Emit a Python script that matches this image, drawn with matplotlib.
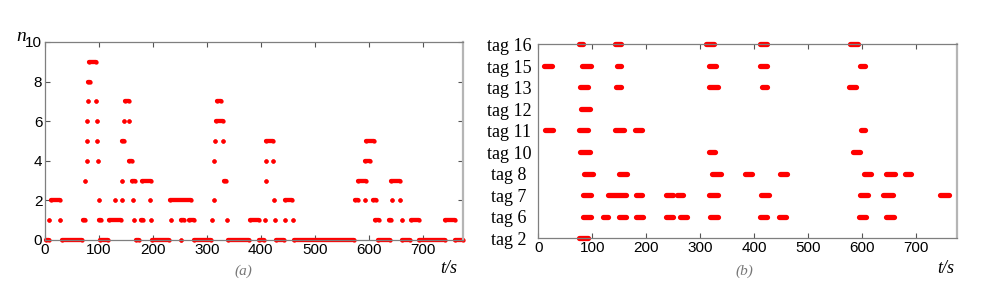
import matplotlib
matplotlib.use("Agg")
import matplotlib.pyplot as plt
import matplotlib.transforms as mtransforms

# (a) number of tags n(t): runs of samples (start s, end s) per level
n0 = [(1, 7), (31, 69), (102, 116), (169, 175), (199, 230), (253, 253), (276, 307),
      (340, 378), (396, 406), (428, 443), (461, 573), (617, 639), (662, 677),
      (694, 741), (761, 775)]
n1 = [(8, 8), (28, 28), (70, 74), (100, 103), (119, 141), (165, 165), (178, 182),
      (196, 196), (233, 233), (252, 257), (267, 276), (309, 309), (337, 337),
      (380, 396), (407, 407), (427, 427), (445, 445), (460, 460), (612, 619),
      (637, 642), (661, 661), (678, 693), (742, 761)]
n2 = [(11, 27), (100, 100), (129, 129), (142, 142), (164, 164), (195, 195),
      (232, 270), (314, 314), (425, 425), (445, 458), (574, 581), (593, 593),
      (609, 614), (643, 643), (659, 659)]
n3 = [(75, 75), (142, 142), (161, 166), (180, 197), (332, 335), (409, 409),
      (581, 595), (642, 658)]
n4 = [(77, 77), (98, 98), (156, 162), (314, 314), (409, 409), (423, 423), (593, 602)]
n5 = [(77, 77), (97, 97), (142, 146), (316, 316), (330, 330), (409, 422), (596, 610)]
n6 = [(78, 78), (96, 96), (147, 147), (156, 156), (317, 330)]
n7 = [(79, 79), (95, 95), (148, 155), (319, 327)]
n8 = [(80, 83)]
n9 = [(82, 94)]
levels = [n0, n1, n2, n3, n4, n5, n6, n7, n8, n9]

# (b) presence intervals of each tag
tags = ['tag 2', 'tag 6', 'tag 7', 'tag 8', 'tag 10', 'tag 11', 'tag 12',
        'tag 13', 'tag 15', 'tag 16']
tag2 = [(76, 92)]
tag6 = [(82, 97), (120, 129), (149, 162), (181, 194), (236, 250), (262, 275),
        (319, 333), (411, 424), (446, 458), (595, 607), (644, 658)]
tag7 = [(83, 98), (129, 162), (181, 192), (237, 249), (257, 268), (317, 333),
        (412, 428), (596, 610), (639, 657), (744, 760)]
tag8 = [(84, 101), (149, 165), (322, 338), (383, 396), (447, 461), (603, 617),
        (645, 660), (679, 691)]
tag10 = [(78, 96), (316, 328), (583, 596)]
tag11 = [(12, 27), (76, 93), (143, 159), (179, 193), (598, 606)]
tag12 = [(80, 96)]
tag13 = [(77, 93), (144, 154), (317, 332), (414, 423), (575, 589)]
tag15 = [(10, 25), (81, 97), (145, 154), (317, 330), (411, 424), (596, 606)]
tag16 = [(75, 82), (143, 154), (311, 325), (411, 424), (577, 592)]
tag_runs = [tag2, tag6, tag7, tag8, tag10, tag11, tag12, tag13, tag15, tag16]

sans = 'Liberation Sans'
serif = 'Liberation Serif'
red = '#ff0000'

fig = plt.figure(figsize=(9.81, 2.93), dpi=100)
ax1 = fig.add_axes([0.0459, 0.181, 0.4261, 0.6758])
ax2 = fig.add_axes([0.5487, 0.187, 0.4265, 0.662])

for v, runs in enumerate(levels):
    for s, e in runs:
        ax1.plot([s, e], [v, v], '-o', color=red, lw=3.1, ms=3.1, mew=0,
                 solid_capstyle='round', clip_on=False)

for i, runs in enumerate(tag_runs):
    for s, e in runs:
        ax2.plot([s, e], [i, i], '-', color=red, lw=3.8,
                 solid_capstyle='round', clip_on=False)

for ax in (ax1, ax2):
    ax.set_xlim(0, 775)
    ax.set_xticks(range(0, 701, 100))
    ax.tick_params(direction='in', top=True, right=True, length=3.5,
                   width=0.8, color='#555555', labelsize=11, pad=2)
    for lab in ax.get_xticklabels():
        lab.set_fontfamily(sans)
    for side in ('left', 'top', 'bottom'):
        ax.spines[side].set_color('#7f7f7f')
        ax.spines[side].set_linewidth(0.9)
    ax.spines['right'].set_color('#b5b5b5')
    ax.spines['right'].set_linewidth(1.6)

ax1.set_ylim(0, 10)
ax1.set_yticks(range(0, 11, 2))
for lab in ax1.get_yticklabels():
    lab.set_fontfamily(sans)

ax2.set_ylim(0, 9)
ax2.set_yticks(range(len(tags)))
ax2.set_yticklabels(tags, fontfamily=serif, fontsize=13, ha='center',
                    va='top')
ax2.tick_params(axis='y', length=0, pad=21)
# labels sit a little below their rows, as in the original
offset = mtransforms.ScaledTranslation(0, 4.5 / 72, fig.dpi_scale_trans)
for lab in ax2.get_yticklabels():
    lab.set_transform(lab.get_transform() + offset)

fig.text(0.0214, 0.874, 'n', fontfamily=serif, style='italic', fontsize=14,
         ha='center', va='center')
fig.text(0.457, 0.085, 't/s', fontfamily=serif, style='italic', fontsize=13,
         ha='center', va='center')
fig.text(0.964, 0.085, 't/s', fontfamily=serif, style='italic', fontsize=13,
         ha='center', va='center')
fig.text(0.248, 0.075, '(a)', fontfamily=serif, style='italic', fontsize=11,
         color='#777777', ha='center', va='center')
fig.text(0.759, 0.075, '(b)', fontfamily=serif, style='italic', fontsize=11,
         color='#777777', ha='center', va='center')

fig.savefig('out.png', dpi=100)
